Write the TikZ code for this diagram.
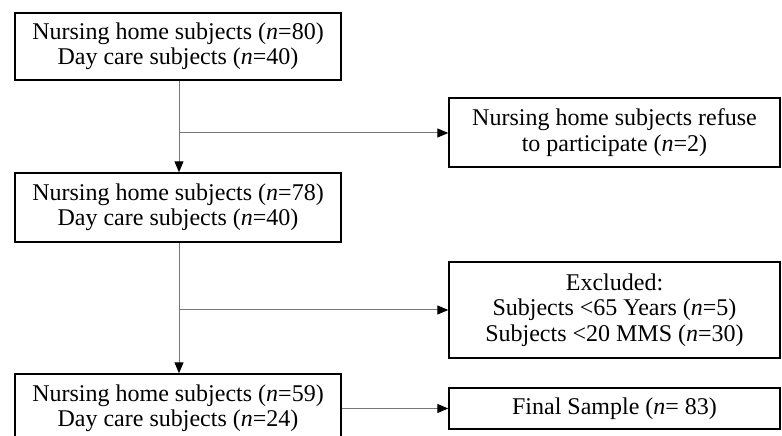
\documentclass[tikz,border=0pt]{standalone}
\usepackage{fontspec}
\setmainfont{Liberation Serif}
\usetikzlibrary{arrows.meta}
\definecolor{linegray}{RGB}{120,120,120}
\tikzset{
  box/.style={draw=black, line width=1.4pt, fill=white, align=center, inner sep=0pt,
    font=\fontsize{24}{25.5}\selectfont},
  conn/.style={draw=linegray, line width=1pt},
  arr/.style={conn, -{Triangle[length=11pt,width=9pt,color=black]}}
}
\begin{document}
\begin{tikzpicture}[x=1pt,y=1pt]
\useasboundingbox (0,0) rectangle (782,436);
\clip (0,0) rectangle (782,436);
% boxes (y = 436 - pixel row)
\node[box, minimum width=326pt, minimum height=67pt] (b1) at (178,389.5)
  {Nursing home subjects (\textit{n}=80)\\Day care subjects (\textit{n}=40)};
\node[box, minimum width=331pt, minimum height=69pt] (r1) at (614.5,303.5)
  {Nursing home subjects refuse\\to participate (\textit{n}=2)};
\node[box, minimum width=326pt, minimum height=69pt] (b2) at (178,228.5)
  {Nursing home subjects (\textit{n}=78)\\Day care subjects (\textit{n}=40)};
\node[box, minimum width=331pt, minimum height=96pt] (r2) at (614.5,126)
  {Excluded:\\Subjects {<}65 Years (\textit{n}=5)\\Subjects {<}20 MMS (\textit{n}=30)};
\node[box, minimum width=326pt, minimum height=69pt] (b3) at (178,27.5)
  {Nursing home subjects (\textit{n}=59)\\Day care subjects (\textit{n}=24)};
\node[box, minimum width=331pt, minimum height=41pt] (r3) at (614.5,27.5)
  {Final Sample (\textit{n}= 83)};
% connectors
\coordinate (j1) at (179,303);
\coordinate (j2) at (179,126);
\draw[arr] (b1.south -| j1) -- (b2.north -| j1);
\draw[arr] (j1) -- (r1.west |- j1);
\draw[arr] (b2.south -| j2) -- (b3.north -| j2);
\draw[arr] (j2) -- (r2.west |- j2);
\draw[arr] (b3.east) -- (r3.west);
\end{tikzpicture}
\end{document}
